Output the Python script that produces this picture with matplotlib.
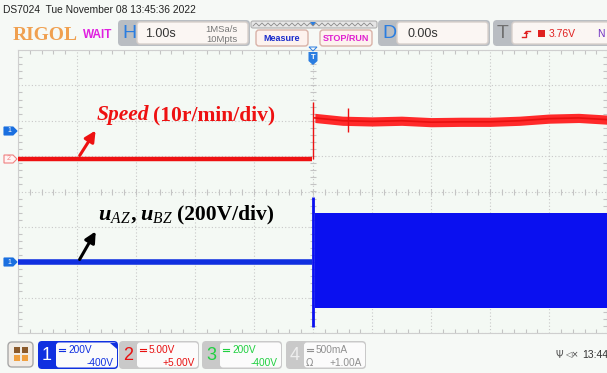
import numpy as np
import matplotlib.pyplot as plt
from matplotlib.patches import FancyBboxPatch, Polygon, Rectangle

# time axis: 1.00 s/div, trigger at centre. vertical values in divisions
t_pre = [-5.0, -0.02]
speed_pre = [0.92, 0.92]
t_post = [0.03, 0.5, 1.0, 1.5, 2.0, 2.5, 3.0, 3.5, 4.0, 4.5, 5.0]
speed_post = [2.08, 2.00, 1.98, 2.00, 1.96, 1.97, 1.97, 2.00, 2.06, 2.08, 2.03]
speed_spread = 0.13
t_spike = [0.0, 0.59]
speed_spike_hi = [2.53, 2.36]
speed_spike_lo = [0.92, 1.68]

u_pre = [-1.99, -1.99]
t_env = [0.03, 5.0]
u_upper = [-0.61, -0.61]
u_lower = [-3.29, -3.29]
u_spike_t = [0.0]
u_spike_hi = [-0.16]
u_spike_lo = [-3.83]

W, H = 607, 373
fig = plt.figure(figsize=(W / 100, H / 100), dpi=100, facecolor='#f6f9f6')

# plot area 18..607 px wide, 50..333 px tall
ax = fig.add_axes([18 / W, 1 - 333 / H, (607 - 18) / W, (333 - 50) / H])
ax.set_facecolor('#f4f9f4')
ax.set_xlim(-5, 4.98)
ax.set_ylim(-4, 4)
ax.set_xticks(np.arange(-5, 5, 1))
ax.set_yticks(np.arange(-4, 5, 1))
ax.set_xticks(np.arange(-5, 5, 0.2), minor=True)
ax.set_yticks(np.arange(-4, 4, 0.2), minor=True)
ax.tick_params(which='both', direction='in', top=True, right=True,
               labelbottom=False, labelleft=False, color='#c4c4c4')
ax.tick_params(which='major', length=0)
ax.tick_params(which='minor', length=3, width=0.8)
ax.grid(True, which='major', ls=(0, (1, 2)), color='#c8c8c8', lw=0.8)
for s in ax.spines.values():
    s.set_color('#cfcfcf')
# centre lines with little ticks
ax.plot(np.arange(-5, 5, 0.2), np.zeros(50), ls='', marker='|', ms=4,
        color='#c4c4c4', mew=0.8)
ax.plot(np.zeros(40), np.arange(-4, 4, 0.2), ls='', marker='_', ms=4,
        color='#c4c4c4', mew=0.8)

# channel 2 - speed (red)
ax.plot(t_pre, speed_pre, color='#ee1111', lw=3.2, solid_capstyle='butt', zorder=3)
sp = np.array(speed_post)
ax.fill_between(t_post, sp - speed_spread, sp + speed_spread,
                color='#ff2a2a', lw=0, zorder=3)
ax.plot(t_post, speed_post, color='#e81010', lw=1.2, zorder=3)
ax.vlines(t_spike, speed_spike_lo, speed_spike_hi, color='#ee1111', lw=1.0, zorder=3)

# channel 1 - phase voltages (blue)
ax.plot(t_pre, u_pre, color='#1030e0', lw=4, solid_capstyle='butt', zorder=3)
ax.fill_between(t_env, u_lower, u_upper, color='#0a10f0', lw=0, zorder=3)
ax.vlines(u_spike_t, u_spike_lo, u_spike_hi, color='#0a10f0', lw=2, zorder=3)

# annotations
ax.annotate('', xy=(-3.66, 1.79), xytext=(-3.98, 0.95),
            arrowprops=dict(arrowstyle='-|>', color='#ee1111', lw=2.2,
                            mutation_scale=16), zorder=5)
ax.annotate('', xy=(-3.66, -1.06), xytext=(-3.98, -1.99),
            arrowprops=dict(arrowstyle='-|>', color='black', lw=2.2,
                            mutation_scale=16), zorder=5)
serif = 'Liberation Serif'
ax.text(-3.66, 2.02, 'Speed', color='#ee1111', family=serif, style='italic',
        weight='bold', fontsize=15.5, va='baseline', zorder=5)
ax.text(-2.71, 2.02, '(10r/min/div)', color='#ee1111', family=serif,
        weight='bold', fontsize=15.5, va='baseline', zorder=5)
plt.rcParams['mathtext.fontset'] = 'custom'
plt.rcParams['mathtext.it'] = 'Liberation Serif:italic'
plt.rcParams['mathtext.rm'] = 'Liberation Serif'
plt.rcParams['mathtext.bf'] = 'Liberation Serif:italic:bold'
ax.text(-3.64, -0.8, r'$\mathbf{u}_{AZ}\,\mathbf{,}\,\mathbf{u}_{BZ}$', color='black',
        fontsize=16, va='baseline', zorder=5)
ax.text(-2.31, -0.8, '(200V/div)', color='black', family=serif,
        weight='bold', fontsize=15.5, va='baseline', zorder=5)

# overlay in pixel coordinates for the scope frame
ov = fig.add_axes([0, 0, 1, 1], zorder=10)
ov.set_xlim(0, W)
ov.set_ylim(H, 0)
ov.axis('off')
ov.patch.set_alpha(0)


def box(x0, y0, x1, y1, fc, ec='none', r=3, lw=1):
    ov.add_patch(FancyBboxPatch((x0, y0), x1 - x0, y1 - y0,
                                boxstyle='round,pad=0,rounding_size=%g' % r,
                                fc=fc, ec=ec, lw=lw))


def dc_sign(x, y, c):
    # the "direct current" symbol: solid line over a dashed one
    ov.plot([x, x + 6], [y - 1.5, y - 1.5], color=c, lw=0.8)
    for k in range(3):
        ov.plot([x + 2.2 * k, x + 2.2 * k + 1.3], [y + 0.8, y + 0.8], color=c, lw=0.8)


sans = 'Liberation Sans'
ov.text(3, 10, 'DS7024  Tue November 08 13:45:36 2022', family=sans,
        fontsize=7.4, va='center', color='#222222')
ov.text(13, 35, 'RIGOL', family=serif, weight='bold', fontsize=14,
        color='#f0a050', va='center')
ov.text(83, 35, 'WAIT', family=sans, weight='bold', fontsize=8.5,
        color='#e020e0', va='center')

# H panel
box(118, 20, 250, 46, '#b9bdc2', r=4)
box(137, 22, 248, 44, '#fbf6f3', ec='#d8d0cc', r=3)
ov.text(122, 34, 'H', family=sans, fontsize=14, color='#2a7de0', va='center')
ov.text(145, 34, '1.00s', family=sans, fontsize=9, color='#333333', va='center')
ov.text(238, 29, '1MSa/s', family=sans, fontsize=6.8, color='#777777',
        va='center', ha='right')
ov.text(238, 39, '10Mpts', family=sans, fontsize=6.8, color='#777777',
        va='center', ha='right')

# zigzag memory bar
box(251, 21, 377, 28, '#e6e6e6', ec='#b0b0b0', r=2, lw=0.8)
zx = np.arange(253, 376, 3)
zy = np.where(np.arange(len(zx)) % 2 == 0, 26, 23)
ov.plot(zx, zy, color='#8a8a8a', lw=0.6)
ov.add_patch(Polygon([[310, 22], [316, 22], [313, 26]], fc='#2a7de0'))

# buttons
box(256, 30, 308, 46, '#fdf2ee', ec='#d9b2a8', r=3)
ov.text(282, 38.5, 'Measure', family=sans, weight='bold', fontsize=6.5,
        color='#1a2ccc', ha='center', va='center')
box(320, 30, 372, 46, '#fdf2ee', ec='#d9b2a8', r=3)
ov.text(346, 38.5, 'STOP/RUN', family=sans, weight='bold', fontsize=6.5,
        color='#e020d0', ha='center', va='center')

# D panel
box(378, 20, 490, 46, '#b9bdc2', r=4)
box(397, 22, 488, 44, '#fbf6f3', ec='#d8d0cc', r=3)
ov.text(382, 34, 'D', family=sans, fontsize=14, color='#2a7de0', va='center')
ov.text(408, 34, '0.00s', family=sans, fontsize=9, color='#333333', va='center')

# T panel
box(493, 20, 612, 46, '#b9bdc2', r=4)
box(512, 22, 612, 44, '#fbf6f3', ec='#d8d0cc', r=3)
ov.text(497, 34, 'T', family=sans, fontsize=14, color='#707070', va='center')
ov.plot([522, 526, 526, 530], [37, 37, 31, 31], color='#e02020', lw=1)
ov.add_patch(Polygon([[523.5, 34], [528.5, 34], [526, 31]], fc='#e02020'))
ov.add_patch(Rectangle((538, 30), 7, 7, fc='#e02020'))
ov.text(549, 34, '3.76V', family=sans, fontsize=7.5, color='#e02020', va='center')
ov.text(597, 34, 'N', family=sans, fontsize=7.5, color='#7030c0', va='center')

# trigger position marker
ov.add_patch(Polygon([[309, 47], [317, 47], [313, 51]], fc='none', ec='#2a7de0', lw=0.7))
ov.add_patch(Polygon([[308.5, 52], [317.5, 52], [317.5, 61], [313, 65], [308.5, 61]],
                     fc='#2a7de0'))
ov.text(313, 57.5, 'T', family=sans, fontsize=5.5, color='white', ha='center',
        va='center', weight='bold')


# channel offset flags at the left
def flag(y, label, fc, ec, tc):
    ov.add_patch(Polygon([[4, y - 4], [13, y - 4], [17, y], [13, y + 4], [4, y + 4]],
                         fc=fc, ec=ec, lw=0.8))
    ov.text(9, y, label, family=sans, fontsize=5, color=tc, ha='center', va='center')


flag(131, '1', '#1a6fe0', '#1a6fe0', 'white')
flag(159, '2', '#fff4f4', '#f08080', '#f08080')
flag(262, '1', '#1a6fe0', '#1a6fe0', 'white')

# bottom bar
box(8, 342, 33, 367, '#f1ece6', ec='#a8a8a8', r=4)
for (qx, qy, qc) in [(14, 347, '#8b5a2b'), (22, 347, '#8b5a2b'),
                     (14, 355, '#f0a040'), (22, 355, '#f0a040')]:
    ov.add_patch(Rectangle((qx, qy), 5.5, 5.5, fc=qc))

chans = [
    (38, '1', '#1030e0', 'white', '200V', '-400V', '#1030e0'),
    (119, '2', '#c9c9c9', '#e81010', '5.00V', '+5.00V', '#e81010'),
    (202, '3', '#c9c9c9', '#20d040', '200V', '-400V', '#20d040'),
    (286, '4', '#c9c9c9', '#eeeeee', '500mA', '+1.00A', '#909090'),
]
for (x0, num, frame, numc, scale, offs, txtc) in chans:
    box(x0, 341, x0 + 80, 369, frame, r=4)
    box(x0 + 18, 342.5, x0 + 79, 367.5, '#fbfbfb', r=3)
    ov.text(x0 + 9, 355, num, family=sans, fontsize=13, color=numc,
            ha='center', va='center')
    dc_sign(x0 + 21, 350, txtc)
    ov.text(x0 + 30, 350, scale, family=sans, fontsize=7.3, color=txtc, va='center')
    ov.text(x0 + 76, 363, offs, family=sans, fontsize=7.3, color=txtc,
            va='center', ha='right')
ov.add_patch(Polygon([[110, 342.5], [117, 342.5], [117, 349]], fc='#1030e0'))
ov.text(306, 363, '\u03a9', family='DejaVu Sans', fontsize=7, color='#909090',
        va='center')

ov.text(556, 355, '\u03a8', family='DejaVu Sans', fontsize=7, color='#555555',
        va='center')
ov.text(565, 355, '\u25c1\u00d7', family='DejaVu Sans', fontsize=6,
        color='#444444', va='center')
ov.text(582, 355, '13:44', family=sans, fontsize=7.5, color='#333333', va='center')

fig.savefig('out.png', dpi=100, facecolor=fig.get_facecolor())
